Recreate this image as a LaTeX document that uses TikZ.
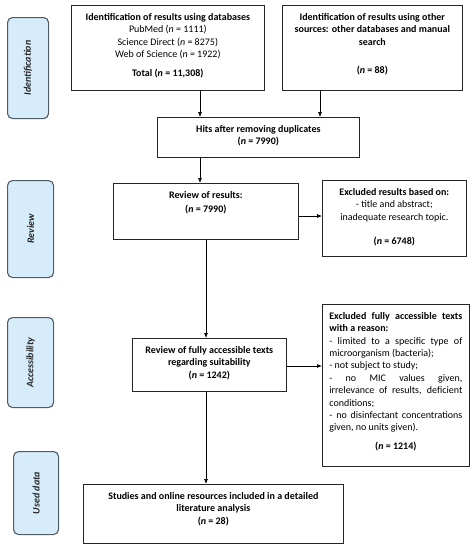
\documentclass[tikz,border=0pt]{standalone}
\usepackage{fontspec}
\setmainfont{Carlito}
\usetikzlibrary{arrows.meta}
\definecolor{sidefill}{RGB}{214,236,250}
\definecolor{sidedraw}{RGB}{80,92,100}
\newcommand\pb[3]{\parbox[c][#2pt][t]{#1pt}{\vspace*{8pt}\setlength{\parindent}{0pt}#3}}
\tikzset{
  mainbox/.style={draw=black!85, line width=0.7pt, inner sep=0pt, anchor=north west, font=\fontsize{10}{12.4}\selectfont},
  sidebox/.style={draw=sidedraw, fill=sidefill, line width=1.1pt, rounded corners=5pt, inner sep=0pt, anchor=north west},
  sidetext/.style={rotate=90, font=\fontsize{10}{11}\selectfont\bfseries\itshape, text=black!85},
  arr/.style={line width=0.7pt, -{Latex[length=5pt,width=4pt]}}
}
\begin{document}
\begin{tikzpicture}[x=1pt,y=-1pt]
\useasboundingbox (0,0) rectangle (476,550);
% side boxes
\node[sidebox, minimum width=41pt, minimum height=101pt] (s1) at (7,17) {};
\node[sidetext] (t1) at (s1.center) {Identification};
\node[sidebox, minimum width=46pt, minimum height=97pt] (s2) at (7,180) {};
\node[sidetext] (t2) at (s2.center) {Review};
\node[sidebox, minimum width=46pt, minimum height=90pt] (s3) at (7,317) {};
\node[sidetext] (t3) at (s3.center) {Accessibility};
\node[sidebox, minimum width=45pt, minimum height=83pt] (s4) at (13,451) {};
\node[sidetext] (t4) at (s4.center) {Used data};
% main boxes
\node[mainbox] (b1) at (71,5) {\pb{193}{85}{\centering\textbf{Identification of results using databases}\\
PubMed (\textit{n} = 1111)\\ Science Direct (\textit{n} = 8275)\\ Web of Science (\textit{n} = 1922)\\[6.5pt]
\textbf{Total (\textit{n} = 11,308)}}};
\node[mainbox] (b2) at (282,5) {\pb{180}{85}{\centering\textbf{Identification of results using other\\ sources: other databases and manual\\ search}\\[16pt]
\textbf{(\textit{n} = 88)}}};
\node[mainbox] (b3) at (157,117) {\pb{202}{40}{\centering\textbf{Hits after removing duplicates}\\
\textbf{(\textit{n} = 7990)}}};
\node[mainbox] (rev) at (113,183) {\pb{185}{56}{\centering\textbf{Review of results:}\\[1.5pt]
\textbf{(\textit{n} = 7990)}}};
\node[mainbox] (ex1) at (322,180) {\pb{144}{76}{\centering\textbf{Excluded results based on:}\\
- title and abstract;\\ inadequate research topic.\\[12pt]
\textbf{(\textit{n} = 6748)}}};
\node[mainbox] (acc) at (132,338) {\pb{154}{53}{\centering\textbf{Review of fully accessible texts}\\
\textbf{regarding suitability}\\ \textbf{(\textit{n} = 1242)}}};
\node[mainbox] (ex2) at (322,304) {\pb{147}{162}{\hspace*{7pt}\parbox[t]{133pt}{%
\makebox[133pt][s]{\bfseries Excluded fully accessible texts}\\
\textbf{with a reason:}\\
\makebox[133pt][s]{- limited to a specific type of}\\
microorganism (bacteria);\\
- not subject to study;\\
\makebox[133pt][s]{- no MIC values given,}\\
\makebox[133pt][s]{irrelevance of results, deficient}\\
conditions;\\
\makebox[133pt][s]{- no disinfectant concentrations}\\
given, no units given).\\[6.5pt]
\makebox[133pt][c]{\textbf{(\textit{n} = 1214)}}}}};
\node[mainbox] (fin) at (83,484) {\pb{260}{59}{\centering\textbf{Studies and online resources included in a detailed}\\
\textbf{literature analysis}\\ \textbf{(\textit{n} = 28)}}};
% connectors
\coordinate (c1) at (200,0);
\coordinate (c2) at (320,0);
\coordinate (c3) at (206,0);
\coordinate (c4) at (0,216);
\coordinate (c5) at (0,366);
\draw[arr] (b1.south -| c1) -- (b3.north -| c1);
\draw[arr] (b2.south -| c2) -- (b3.north -| c2);
\draw[arr] (b3.south -| c1) -- (rev.north -| c1);
\draw[arr] (rev.east |- c4) -- (ex1.west |- c4);
\draw[arr] (rev.south -| c3) -- (acc.north -| c3);
\draw[arr] (acc.east |- c5) -- (ex2.west |- c5);
\draw[arr] (acc.south -| c3) -- (fin.north -| c3);
\end{tikzpicture}
\end{document}
